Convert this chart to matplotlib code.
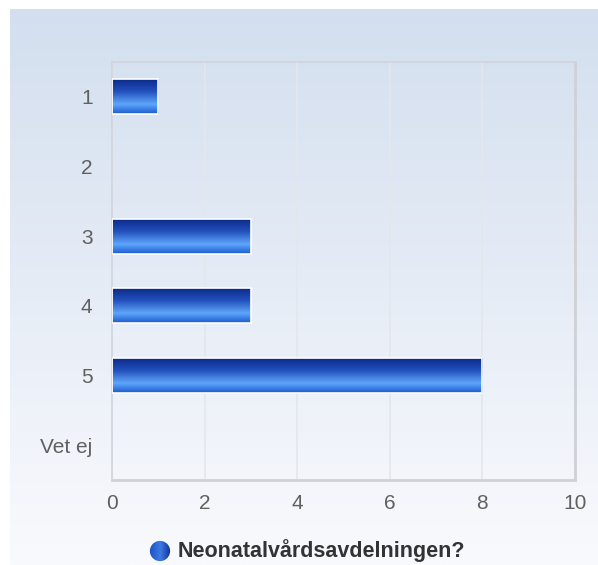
import numpy as np
import matplotlib
matplotlib.use("Agg")
import matplotlib.pyplot as plt
from matplotlib.colors import LinearSegmentedColormap
from matplotlib.patches import Circle

categories = ["1", "2", "3", "4", "5", "Vet ej"]
values = [1, 0, 3, 3, 8, 0]
series_name = "Neonatalvårdsavdelningen?"
xticks = [0, 2, 4, 6, 8, 10]

plt.rcParams['font.family'] = ['Liberation Sans', 'DejaVu Sans']

W, H = 598, 565
fig = plt.figure(figsize=(W / 100, H / 100), dpi=100, facecolor='white')

# background panel gradient
bg = fig.add_axes([10 / W, 0, 1 - 10 / W, 1 - 9 / H])
bg.set_axis_off()
bgcmap = LinearSegmentedColormap.from_list('bg', ['#d3dfef', '#e6ecf6', '#f9fafd'])
bg.imshow(np.linspace(0, 1, 256).reshape(-1, 1), aspect='auto', cmap=bgcmap,
          extent=[0, 1, 0, 1], origin='upper')
bg.set_xlim(0, 1)
bg.set_ylim(0, 1)

# plot area
L, R, T, B = 112, 575, 62, 480
ax = fig.add_axes([L / W, 1 - B / H, (R - L) / W, (B - T) / H])
ax.patch.set_alpha(0)
n = len(categories)
ypos = np.arange(n)
bars = ax.barh(ypos, values, height=0.5, color='none', edgecolor='white', linewidth=1.2, zorder=3)
barcmap = LinearSegmentedColormap.from_list(
    'bar', [(0.0, '#0b2a88'), (0.35, '#2350bd'), (0.72, '#5ea6fa'), (1.0, '#1a5ad2')])
grad = np.linspace(0, 1, 128).reshape(-1, 1)
for rect, v in zip(bars, values):
    if v <= 0:
        rect.set_visible(False)
        continue
    x0, y0 = rect.get_x(), rect.get_y()
    w, h = rect.get_width(), rect.get_height()
    im = ax.imshow(grad, aspect='auto', cmap=barcmap, extent=[x0, x0 + w, y0 + h, y0],
                   origin='upper', zorder=2, interpolation='bilinear')
    im.set_clip_path(rect)

ax.set_ylim(n - 0.5, -0.5)
ax.set_xlim(0, 10)
ax.set_xticks(xticks)
ax.set_xticklabels([str(t) for t in xticks])
ax.set_yticks(ypos)
ax.set_yticklabels(categories)
ax.tick_params(axis='both', length=0, labelsize=15, labelcolor='#606060')
ax.tick_params(axis='x', pad=10)
ax.tick_params(axis='y', pad=14)
ax.grid(axis='x', color='#e3e7ee', linewidth=1.3, zorder=0)
ax.set_axisbelow(True)
for side in ['top', 'left']:
    ax.spines[side].set_color('#cfd4de')
    ax.spines[side].set_linewidth(1.2)
for side in ['right', 'bottom']:
    ax.spines[side].set_color('#cfd1d6')
    ax.spines[side].set_linewidth(2.0)

# legend
lx, ly = 160, 551
circ_ax = fig.add_axes([(lx - 11) / W, 1 - (ly + 11) / H, 22 / W, 22 / H])
circ_ax.set_axis_off()
circ_ax.set_xlim(0, 1)
circ_ax.set_ylim(0, 1)
lcmap = LinearSegmentedColormap.from_list('leg', ['#1a4fc0', '#3d7ae6', '#0b2a88'])
gx = np.linspace(0, 1, 64).reshape(1, -1)
im = circ_ax.imshow(gx, aspect='auto', cmap=lcmap, extent=[0, 1, 0, 1], interpolation='bilinear')
c = Circle((0.5, 0.5), 0.46, transform=circ_ax.transData, facecolor='none', edgecolor='none')
circ_ax.add_patch(c)
im.set_clip_path(c)
fig.text((lx + 18) / W, 1 - ly / H, series_name, fontsize=15.5, fontweight='bold',
         color='#333333', ha='left', va='center')

fig.savefig('out.png', dpi=100, facecolor='white')
